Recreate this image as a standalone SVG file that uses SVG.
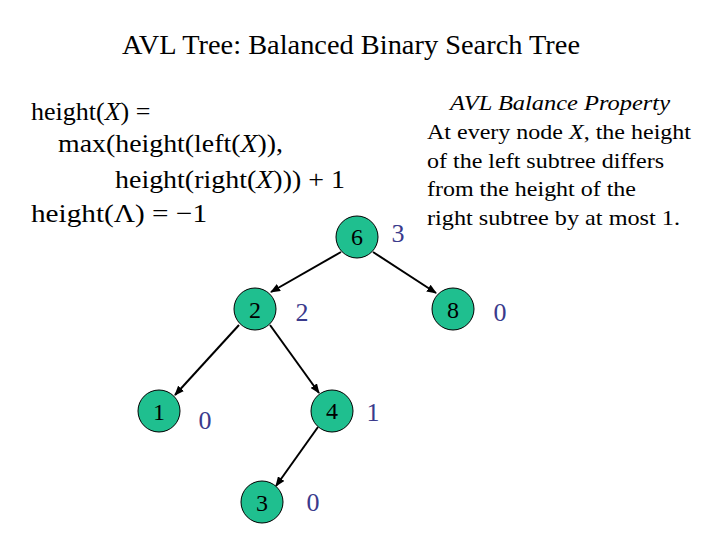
<svg xmlns="http://www.w3.org/2000/svg" width="720" height="540" viewBox="0 0 720 540">
<defs>
<style>
text{font-family:"Liberation Serif","Times New Roman",serif;fill:#000}
.n circle{fill:#1fbf8f;stroke:#000;stroke-width:1}
.n text{font-size:24px;text-anchor:middle}
.h{font-size:26px;fill:#3a3a8c;text-anchor:middle}
.e{stroke:#000;stroke-width:2;marker-end:url(#a)}
</style>
<marker id="a" markerWidth="10" markerHeight="8" refX="9" refY="4" orient="auto" markerUnits="userSpaceOnUse"><path d="M0,0L10,4L0,8z" fill="#000"/></marker>
</defs>
<rect width="720" height="540" fill="#fff"/>
<text x="122" y="54" font-size="27" textLength="458" lengthAdjust="spacingAndGlyphs">AVL Tree: Balanced Binary Search Tree</text>
<text font-size="26">
<tspan x="31" y="120">height(<tspan font-style="italic">X</tspan>)  =</tspan>
</text>
<text x="58" y="152" font-size="26" textLength="225" lengthAdjust="spacingAndGlyphs">max(height(left(<tspan font-style="italic">X</tspan>)),</text>
<text x="115" y="188" font-size="26" textLength="230" lengthAdjust="spacingAndGlyphs">height(right(<tspan font-style="italic">X</tspan>))) + 1</text>
<text x="31" y="222" font-size="26" textLength="176" lengthAdjust="spacingAndGlyphs">height(Λ)  =  −1</text>
<text font-size="22">
<tspan x="450" y="110" font-style="italic" textLength="220" lengthAdjust="spacingAndGlyphs">AVL Balance Property</tspan>
</text>
<text x="427" y="139" font-size="22" textLength="264" lengthAdjust="spacingAndGlyphs">At every node <tspan font-style="italic">X</tspan>, the height</text>
<text x="427" y="168" font-size="22" textLength="237" lengthAdjust="spacingAndGlyphs">of the left subtree differs</text>
<text x="427" y="196" font-size="22" textLength="209" lengthAdjust="spacingAndGlyphs">from the height of the</text>
<text x="427" y="225" font-size="22" textLength="253" lengthAdjust="spacingAndGlyphs">right subtree by at most 1.</text>
<g id="edges">
<line class="e" x1="341" y1="252" x2="271" y2="292"/>
<line class="e" x1="373" y1="252" x2="436" y2="293"/>
<line class="e" x1="239" y1="325" x2="175" y2="395"/>
<line class="e" x1="270" y1="325" x2="319" y2="393"/>
<line class="e" x1="318" y1="427" x2="276" y2="486"/>
</g>
<g id="n6" class="n"><circle cx="357" cy="237" r="21"/><text x="357" y="245">6</text></g>
<g id="n2" class="n"><circle cx="255" cy="309" r="21"/><text x="255" y="318">2</text></g>
<g id="n8" class="n"><circle cx="453" cy="309" r="21"/><text x="453" y="318">8</text></g>
<g id="n1" class="n"><circle cx="159" cy="411" r="21"/><text x="159" y="420">1</text></g>
<g id="n4" class="n"><circle cx="332" cy="411" r="21"/><text x="332" y="419">4</text></g>
<g id="n3" class="n"><circle cx="262" cy="502" r="21"/><text x="262" y="511">3</text></g>
<g id="heights">
<text class="h" x="398" y="242">3</text>
<text class="h" x="302" y="321">2</text>
<text class="h" x="500" y="321">0</text>
<text class="h" x="205" y="429">0</text>
<text class="h" x="373" y="421">1</text>
<text class="h" x="313" y="511">0</text>
</g>
</svg>
